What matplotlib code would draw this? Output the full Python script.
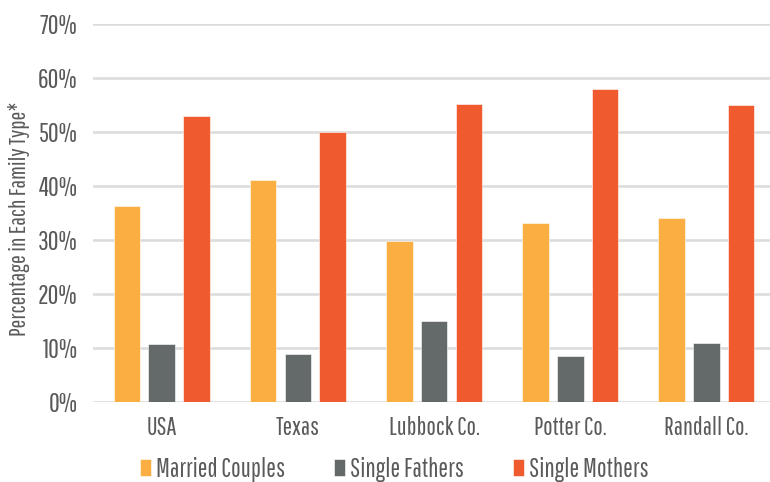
import matplotlib
matplotlib.use("Agg")
import matplotlib.pyplot as plt
import numpy as np

categories = ["USA", "Texas", "Lubbock Co.", "Potter Co.", "Randall Co."]
married_couples = [36.2, 41.0, 29.8, 33.2, 34.0]
single_fathers = [10.7, 8.9, 14.9, 8.6, 10.9]
single_mothers = [53.0, 49.9, 55.2, 58.0, 55.0]
series_names = ["Married Couples", "Single Fathers", "Single Mothers"]
yticks = [0, 10, 20, 30, 40, 50, 60, 70]

plt.rcParams['font.family'] = ['Pathway Gothic One', 'DejaVu Sans']

colors = ["#FBAF43", "#646A69", "#EF5A2E"]
text_color = "#5a5a5a"

fig = plt.figure(figsize=(7.7, 4.82), dpi=100)
ax = fig.add_axes([93/770, 1 - 402/482, 1 - 93/770, (402 - 23.7)/482])

x = np.arange(len(categories))
step = 0.257
width = 0.198
for i, (vals, name) in enumerate(zip([married_couples, single_fathers, single_mothers], series_names)):
    ax.bar(x + (i - 1) * step, vals, width, color=colors[i], label=name,
           edgecolor="white", linewidth=0.4, zorder=3)

ax.set_ylim(0, 70)
ax.set_xlim(-0.507, 4.47)
ax.set_yticks(yticks)
ax.set_yticklabels([f"{t}%" for t in yticks])
ax.set_xticks(x)
ax.set_xticklabels(categories)
ax.yaxis.grid(True, color="#dcdcdc", linewidth=1.9, zorder=0)
ax.set_axisbelow(True)
for s in ax.spines.values():
    s.set_visible(False)
ax.tick_params(axis='y', length=0, pad=11, labelsize=19, labelcolor=text_color)
ax.tick_params(axis='x', length=0, pad=10, labelsize=18, labelcolor=text_color)
ax.set_ylabel("Percentage in Each Family Type*", fontsize=17, color=text_color)
ax.yaxis.set_label_coords(-0.093, 0.485)

handles, labels = ax.get_legend_handles_labels()
leg = fig.legend(handles, labels, loc="center", bbox_to_anchor=(0.512, 1 - 469/482), ncol=3,
                 frameon=False, fontsize=18.5, handlelength=0.42, handleheight=0.6,
                 handletextpad=0.2, columnspacing=1.9, labelcolor=text_color,
                 borderaxespad=0, borderpad=0)

fig.savefig("out.png", dpi=100)
